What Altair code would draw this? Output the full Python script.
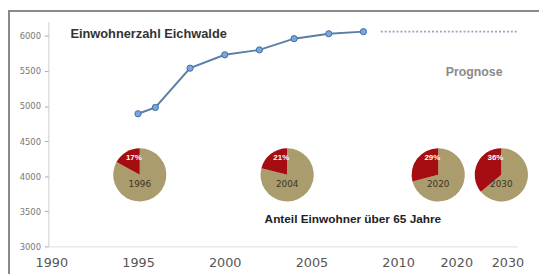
import altair as alt
import pandas as pd

# ---- data ----
years = [1995, 1996, 1998, 2000, 2002, 2004, 2006, 2008]
population = [4890, 4980, 5540, 5730, 5800, 5960, 6030, 6060]

forecast_years = [2009, 2032]
forecast_values = [6060, 6060]

pie_labels = ["1996", "2004", "2020", "2030"]
pie_share_65 = [17, 21, 29, 36]
pie_x = [1995.1, 2003.6, 2016.9, 2028.8]
pie_y = [4020, 4020, 4020, 4020]

x_tick_values = [1990, 1995, 2000, 2005, 2010, 2020, 2030]
y_tick_values = [3000, 3500, 4000, 4500, 5000, 5500, 6000]

title_text = ["Einwohnerzahl Eichwalde"]
title_x = [1991.1]
title_y = [6030]
prognose_text = ["Prognose"]
prognose_x = [2023.5]
prognose_y = [5480]
anteil_text = ["Anteil Einwohner über 65 Jahre"]
anteil_x = [2002.3]
anteil_y = [3392]

# ---- tables ----
line_df = pd.DataFrame({"year": years, "pop": population})
fc_df = pd.DataFrame({"year": forecast_years, "pop": forecast_values})
pie_rows = []
for lab, p, px, py in zip(pie_labels, pie_share_65, pie_x, pie_y):
    pie_rows.append({"pie": lab, "part": "rest", "share": (100 - p) / 100, "order": 0, "year": px, "pop": py})
    pie_rows.append({"pie": lab, "part": "65+", "share": p / 100, "order": 1, "year": px, "pop": py})
pie_df = pd.DataFrame(pie_rows)
pie_lab_df = pd.DataFrame({"pie": pie_labels, "pct": [f"{p}%" for p in pie_share_65], "year": pie_x, "pop": pie_y})

W, H = 476, 228

# piecewise time axis: 1990-2010 wide, 2010-2030 compressed
xscale = alt.Scale(domain=[1989.83, 2010, 2020, 2031.92], range=[0, 355, 414, W], nice=False, zero=False)
yscale = alt.Scale(domain=[3000, 6200], nice=False, zero=False)

xaxis = alt.Axis(values=x_tick_values, title=None, grid=False, ticks=False, labelFontSize=13,
                 labelColor="#555555", labelFont="DejaVu Sans", labelPadding=10, domainColor="#dddddd",
                 format="d", labelFlush=False)
yaxis = alt.Axis(values=y_tick_values, title=None, grid=False, tickSize=4, tickColor="#aaaaaa",
                 labelFontSize=8.5, labelColor="#777777", labelFont="DejaVu Sans", labelPadding=4,
                 domainColor="#cccccc", format="d")

X = alt.X("year:Q", scale=xscale, axis=xaxis)
Y = alt.Y("pop:Q", scale=yscale, axis=yaxis)

line = alt.Chart(line_df).mark_line(color="#5b7ea9", strokeWidth=2).encode(x=X, y=Y)
pts = alt.Chart(line_df).mark_point(filled=True, size=40, fill="#7aa6dc", stroke="#3e6da8",
                                    strokeWidth=1, opacity=1).encode(x=X, y=Y)
fc = alt.Chart(fc_df).mark_line(color="#8fa5c6", strokeWidth=2, strokeDash=[2, 2]).encode(x=X, y=Y)

pies = alt.Chart(pie_df).transform_stack(
    stack="share", groupby=["pie"], as_=["t0", "t1"], sort=[alt.SortField("order")]
).mark_arc(radius=27).encode(
    x=X, y=Y,
    theta=alt.Theta("t0:Q", scale=alt.Scale(domain=[0, 1])),
    theta2="t1:Q",
    color=alt.Color("part:N", scale=alt.Scale(domain=["rest", "65+"], range=["#aa9c6c", "#a50d12"]), legend=None),
)

pie_year = alt.Chart(pie_lab_df).mark_text(fontSize=9, color="#3b3424", font="DejaVu Sans", dy=9).encode(
    x=X, y=Y, text="pie:N")
pie_pct = alt.Chart(pie_lab_df).mark_text(fontSize=8, color="white", fontWeight="bold",
                                          font="Liberation Sans", dx=-6, dy=-17).encode(
    x=X, y=Y, text="pct:N")


def label(texts, xs, ys, **kw):
    df = pd.DataFrame({"t": texts, "year": xs, "pop": ys})
    return alt.Chart(df).mark_text(**kw).encode(x=X, y=Y, text="t:N")


t1 = label(title_text, title_x, title_y, align="left", baseline="middle", fontSize=13,
           fontWeight="bold", color="#333333", font="Liberation Sans")
t2 = label(prognose_text, prognose_x, prognose_y, align="center", baseline="middle", fontSize=12.5,
           fontWeight="bold", color="#8a8a8a", font="Liberation Sans")
t3 = label(anteil_text, anteil_x, anteil_y, align="left", baseline="middle", fontSize=12,
           fontWeight="bold", color="#222222", font="Liberation Sans")

border_top = alt.Chart(line_df).mark_rule(color="#8a8a8a", strokeWidth=2).encode(
    x=alt.value(-41), x2=alt.value(W + 22), y=alt.value(-11))
border_left = alt.Chart(line_df).mark_rule(color="#8a8a8a", strokeWidth=1.5).encode(
    x=alt.value(-40), y=alt.value(-12), y2=alt.value(H + 28))

chart = alt.layer(
    fc, line, pts, pies, pie_year, pie_pct, t1, t2, t3, border_top, border_left
).properties(
    width=W, height=H,
    autosize=alt.AutoSizeParams(type="none"),
    padding={"left": 41, "top": 12, "right": 22, "bottom": 28},
    background="white",
).configure_view(stroke=None)

chart.save("out.html", embed_options={"renderer": "svg", "actions": False})
